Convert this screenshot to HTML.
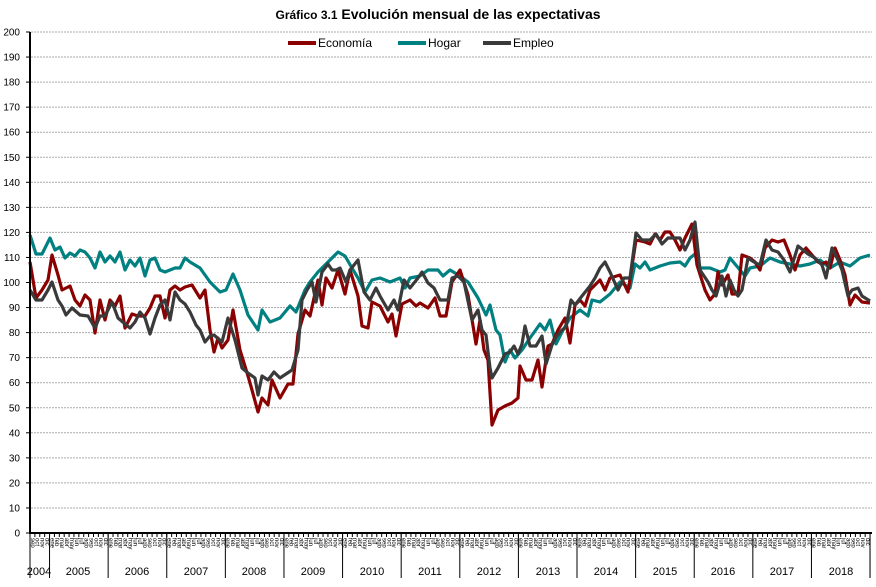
<!DOCTYPE html>
<html><head><meta charset="utf-8"><style>
body{margin:0;background:#fff;width:876px;height:582px;overflow:hidden;font-family:"Liberation Sans",Arial,sans-serif}
</style></head><body>
<svg id="s" width="876" height="582" xmlns="http://www.w3.org/2000/svg" font-family="Liberation Sans, Arial, sans-serif">
<text x="438" y="19" text-anchor="middle" font-weight="bold" font-size="14"><tspan font-size="12">Gráfico 3.1</tspan> Evolución mensual de las expectativas</text>
<g font-size="12">
<line x1="288" y1="43" x2="316" y2="43" stroke="#8b0000" stroke-width="4"/><text x="318" y="47">Economía</text>
<line x1="398" y1="43" x2="426" y2="43" stroke="#008080" stroke-width="4"/><text x="428" y="47">Hogar</text>
<line x1="483" y1="43" x2="511" y2="43" stroke="#3a3a3a" stroke-width="4"/><text x="513" y="47">Empleo</text>
</g>
<g id="grid" stroke="#aaa" stroke-width="1" stroke-dasharray="2,1"></g>
<g id="ylab" font-size="10" text-anchor="end"></g>
<g fill="none" stroke-width="3.2" stroke-linejoin="round">
<polyline stroke="#008080" points="30,235 36,254 42,254 50,238 55,250 60,247 65,258 70,253 75,256 80,250 85,252 90,258 95,268 100,252 105,262 110,256 115,262 120,252 125,270 130,260 135,266 140,258 145,276 150,260 155,258 160,270 165,272 175,268 180,268 185,258 190,262 200,268 210,282 220,292 226,290 233,274 240,290 248,315 258,330 262,310 270,322 280,318 290,306 296,312 305,290 310,282 318,272 328,262 338,252 345,256 352,268 358,278 365,292 372,280 380,278 390,282 400,278 405,288 410,278 420,276 428,270 438,270 443,276 450,270 460,276 468,282 478,298 486,315 490,305 496,330 500,335 505,362 510,350 515,358 522,350 530,338 540,324 545,330 550,320 556,344 562,332 570,318 580,310 588,316 592,300 600,302 610,294 620,282 630,288 635,264 640,268 645,262 650,270 660,266 670,263 680,262 685,266 690,258 695,254 700,268 710,268 720,272 725,270 730,258 740,270 745,276 750,268 760,266 770,258 780,262 790,264 800,266 810,264 820,260 830,268 840,262 850,266 860,258 870,255"/>
<polyline stroke="#8b0000" points="30,262 36,298 42,290 48,280 52,255 58,275 62,290 70,286 75,300 80,306 85,295 90,300 95,333 100,300 105,320 110,300 115,306 120,296 125,328 132,314 138,316 145,316 150,308 155,296 160,296 165,318 170,290 175,286 180,290 185,287 192,285 200,298 205,290 210,330 214,352 218,338 222,348 228,340 233,310 240,350 248,376 252,390 258,412 262,398 268,405 272,380 280,398 288,384 293,384 298,334 305,310 310,316 318,280 322,305 326,278 332,288 338,270 345,294 350,270 358,296 362,326 368,328 372,302 380,306 388,322 392,314 396,336 402,304 410,300 416,306 420,303 428,308 435,298 440,316 446,316 452,282 460,270 468,295 476,344 480,320 484,350 488,360 492,425 498,410 505,406 512,403 518,398 520,366 526,380 532,380 538,360 542,387 548,346 552,344 558,330 565,318 570,343 575,305 580,300 585,306 590,290 600,280 605,290 610,278 620,275 628,292 636,240 645,242 650,244 655,234 660,240 665,232 670,232 675,240 680,250 685,238 692,224 697,265 705,290 710,300 715,294 718,272 722,285 728,275 732,294 738,294 742,255 750,258 755,262 760,270 765,248 772,240 778,242 784,240 790,255 795,270 800,255 806,248 812,255 818,262 822,264 826,262 830,268 835,248 840,260 845,275 850,305 855,295 862,302 870,303"/>
<polyline stroke="#3a3a3a" points="30,290 36,300 42,300 48,290 52,282 58,300 62,306 66,315 72,308 80,315 88,316 95,328 100,316 105,316 112,302 118,318 125,324 130,328 135,322 140,312 145,318 150,334 155,318 160,305 165,300 170,320 175,292 180,300 185,304 190,312 196,325 200,330 205,342 210,336 214,335 222,342 228,318 235,340 242,368 248,373 255,378 258,395 262,376 268,380 274,372 280,378 286,374 292,370 298,350 302,300 307,290 312,282 316,302 322,272 328,264 332,270 336,270 340,268 346,282 350,270 358,260 364,292 370,300 376,288 380,296 388,310 394,300 398,310 404,280 410,288 418,278 422,272 428,283 434,288 440,300 448,300 452,278 458,276 464,282 472,320 478,310 482,330 486,335 490,368 492,378 498,368 505,354 510,352 514,346 518,354 522,344 525,326 530,346 536,346 542,336 546,364 552,345 556,337 562,330 566,327 571,300 575,305 582,296 590,286 595,278 600,268 605,262 610,272 618,290 624,278 630,278 636,233 642,240 650,240 656,234 662,244 668,238 674,238 680,238 685,250 690,240 695,222 700,270 708,282 712,290 716,296 722,276 726,296 730,280 734,290 738,296 742,290 748,258 754,262 760,265 766,240 772,250 778,252 784,260 790,272 798,246 808,254 815,258 822,265 826,278 832,248 838,260 842,270 848,296 852,290 858,288 862,296 870,301"/>
</g>
<line x1="30" y1="32" x2="30" y2="534" stroke="#000" stroke-width="2"/>
<line x1="29" y1="533" x2="872" y2="533" stroke="#000" stroke-width="2"/>
<g id="xt" stroke="#000" stroke-width="1"></g>
<g id="mlab" font-size="6"></g>
<g font-size="11" text-anchor="middle">
<text x="39" y="575">2004</text><text x="78" y="575">2005</text><text x="137" y="575">2006</text><text x="196" y="575">2007</text><text x="254" y="575">2008</text><text x="313" y="575">2009</text><text x="372" y="575">2010</text><text x="430" y="575">2011</text><text x="489" y="575">2012</text><text x="548" y="575">2013</text><text x="606" y="575">2014</text><text x="665" y="575">2015</text><text x="723" y="575">2016</text><text x="782" y="575">2017</text><text x="841" y="575">2018</text>
</g>
</svg>
<script>
var NS="http://www.w3.org/2000/svg";
function el(p,t,a,txt){var e=document.createElementNS(NS,t);for(var k in a)e.setAttribute(k,a[k]);if(txt)e.textContent=txt;document.getElementById(p).appendChild(e);}
for(var v=0;v<=200;v+=10){var y=533-v*2.505;if(v>0)el("grid","line",{x1:31,x2:872,y1:y,y2:y});el("ylab","text",{x:20,y:y+3.5},String(v));el("xt","line",{x1:26,x2:30,y1:y,y2:y});}
var m=["ene","feb","mar","abr","may","jun","jul","ago","sep","oct","nov","dic"];
var w=4.884;
for(var i=0;i<172;i++){var x=30+w*i;el("xt","line",{x1:x,x2:x,y1:533,y2:537});var mi=(i+8)%12;
el("mlab","text",{transform:"translate("+(x+0.8)+",538) rotate(90)"},m[mi]);}
for(var k=0;k<=14;k++){var x=30+w*(4+12*k);el("xt","line",{x1:x,x2:x,y1:533,y2:578});}
el("xt","line",{x1:30,x2:30,y1:533,y2:578});el("xt","line",{x1:870,x2:870,y1:533,y2:578});
</script>
</body></html>
